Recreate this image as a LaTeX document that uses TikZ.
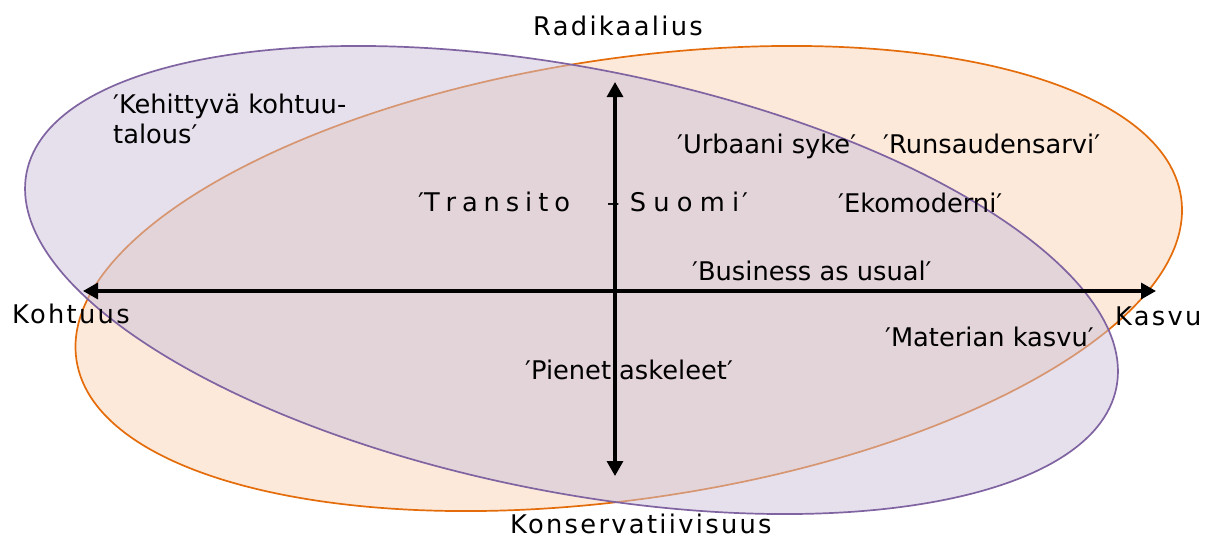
\documentclass[tikz,border=0pt]{standalone}
\usepackage{fontspec}
\setmainfont{DejaVu Sans}
\newfontfamily\axisfont[LetterSpace=9]{DejaVu Sans}
\usetikzlibrary{arrows.meta}
\definecolor{orgline}{HTML}{E46C0A}
\definecolor{orgfill}{HTML}{FCE9DA}
\definecolor{purline}{HTML}{8064A2}
\definecolor{purfill}{HTML}{CCC1DA}
\tikzset{
  lbl/.style={anchor=base west, inner sep=0pt, font=\fontsize{25.7}{30}\selectfont},
  axl/.style={anchor=base west, inner sep=0pt, font=\axisfont\fontsize{25.7}{30}\selectfont},
  axisline/.style={line width=3.2pt, {Triangle[length=15pt,width=16pt]}-{Triangle[length=15pt,width=16pt]}}
}
\newcommand{\ls}{\hspace{5.9pt}}
\newcommand{\rs}{\hspace{7.2pt}}
\begin{document}
\begin{tikzpicture}[x=1pt,y=-1pt]
\useasboundingbox (0,0) rectangle (1206,538);
% orange ellipse
\draw[orgline, line width=1.7pt, fill=orgfill, rotate around={8.37:(628.75,278.5)}]
  (628.75,278.5) ellipse [x radius=558.3, y radius=220.2];
% purple ellipse
\fill[purfill, fill opacity=0.5, rotate around={-11.15:(571.5,280)}]
  (571.5,280) ellipse [x radius=555.4, y radius=211.9];
\draw[purline, line width=1.7pt, rotate around={-11.15:(571.5,280)}]
  (571.5,280) ellipse [x radius=555.4, y radius=211.9];
% axes
\coordinate (west) at (83,291);
\coordinate (east) at (1156,291);
\coordinate (north) at (615,82);
\coordinate (south) at (615,476);
\draw[axisline] (west) -- (east);
\draw[axisline] (north) -- (south);
% axis labels
\node[axl] (rad) at (533,35) {Radikaalius};
\node[axl] (kons) at (510,533) {Konservatiivisuus};
\node[axl] (koht) at (12,323) {Kohtuus};
\node[axl] (kasvu) at (1115,325) {Kasvu};
% scenario labels
\node[lbl] (keh1) at (113,113) {′Kehittyvä kohtuu-};
\node[lbl] (keh2) at (113,143) {talous′};
\node[lbl] (urb) at (677,153) {′Urbaani syke′};
\node[lbl] (runs) at (883,153) {′Runsaudensarvi′};
\node[lbl] (trans) at (418,211) {′T\ls r\ls a\ls n\ls s\ls i\ls t\ls o\hspace{37pt}–\hspace{10pt}S\rs u\rs o\rs m\rs i\hspace{3pt}′};
\node[lbl] (eko) at (838,212) {′Ekomoderni′};
\node[lbl] (bau) at (692,280) {′Business as usual′};
\node[lbl] (mat) at (885,346) {′Materian kasvu′};
\node[lbl] (pien) at (525,379) {′Pienet askeleet′};
\end{tikzpicture}
\end{document}
